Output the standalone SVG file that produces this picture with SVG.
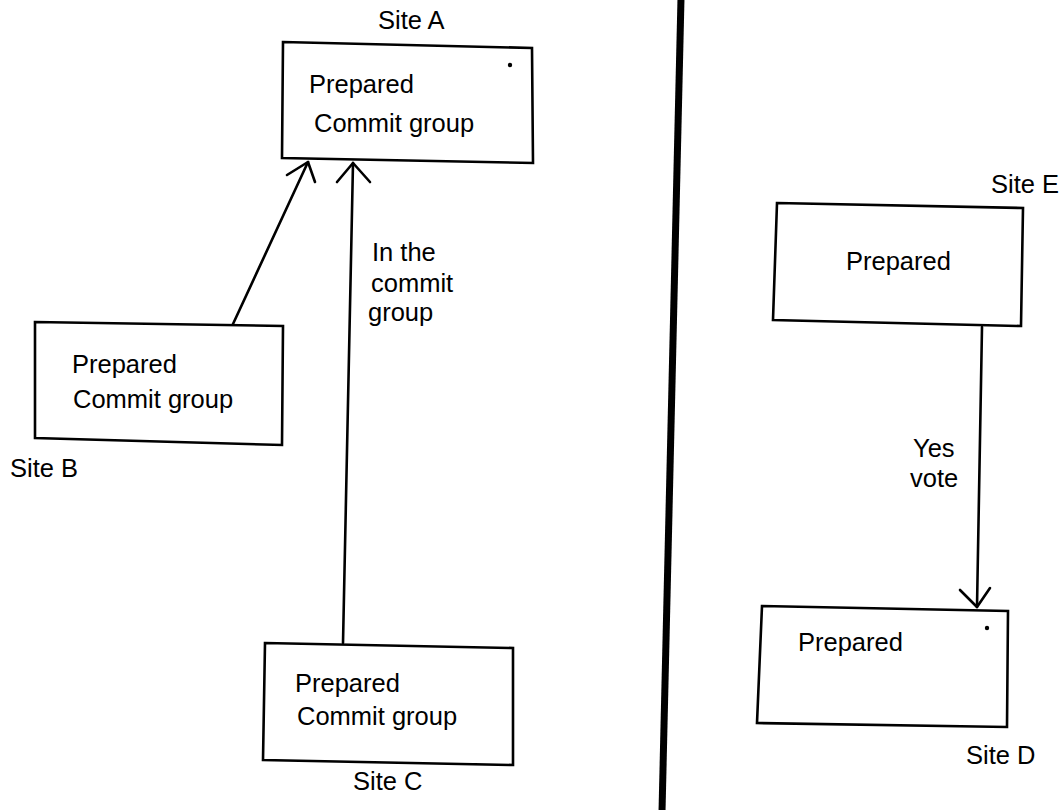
<svg xmlns="http://www.w3.org/2000/svg" width="1063" height="810" viewBox="0 0 1063 810">
<style>
.box{fill:#fff;stroke:#000;stroke-width:2.6;stroke-linejoin:miter}
.t{font-family:"Liberation Sans",Arial,sans-serif;font-size:25.5px;fill:#000}
.ln{fill:none;stroke:#000;stroke-width:2.6;stroke-linecap:round;stroke-linejoin:round}
</style>
<rect width="1063" height="810" fill="#fff"/>
<line x1="681" y1="-2" x2="662" y2="812" stroke="#000" stroke-width="7"/>
<g id="connectors">
<line class="ln" x1="233" y1="324" x2="308" y2="162"/>
<polyline class="ln" points="287,175 308,162 315,182"/>
<line class="ln" x1="343" y1="643" x2="353" y2="163"/>
<polyline class="ln" points="337,182 353,163 370,182"/>
<line class="ln" x1="982" y1="327" x2="977" y2="607"/>
<polyline class="ln" points="960,590 977,607 990,588"/>
<text class="t" x="372" y="261">In the</text>
<text class="t" x="371" y="292">commit</text>
<text class="t" x="368" y="321">group</text>
<text class="t" x="913" y="457">Yes</text>
<text class="t" x="910" y="487">vote</text>
</g>
<g id="siteA">
<polygon class="box" points="283,42 532,48 533,163 282,158"/>
<text class="t" x="378" y="29">Site A</text>
<text class="t" x="309" y="93">Prepared</text>
<text class="t" x="314" y="132">Commit group</text>
<circle cx="510" cy="65" r="2.2" fill="#000"/>
</g>
<g id="siteB">
<polygon class="box" points="35,322 283,326 282,445 35,438"/>
<text class="t" x="72" y="373">Prepared</text>
<text class="t" x="73" y="408">Commit group</text>
<text class="t" x="10" y="477">Site B</text>
</g>
<g id="siteC">
<polygon class="box" points="265,643 513,648 513,765 263,760"/>
<text class="t" x="295" y="692">Prepared</text>
<text class="t" x="297" y="725">Commit group</text>
<text class="t" x="353" y="790">Site C</text>
</g>
<g id="siteE">
<polygon class="box" points="777,203 1023,208 1021,326 773,320"/>
<text class="t" x="846" y="270">Prepared</text>
<text class="t" x="991" y="193">Site E</text>
</g>
<g id="siteD">
<polygon class="box" points="762,606 1008,611 1007,727 757,723"/>
<text class="t" x="798" y="651">Prepared</text>
<circle cx="987" cy="628" r="2.2" fill="#000"/>
<text class="t" x="966" y="764">Site D</text>
</g>
</svg>
